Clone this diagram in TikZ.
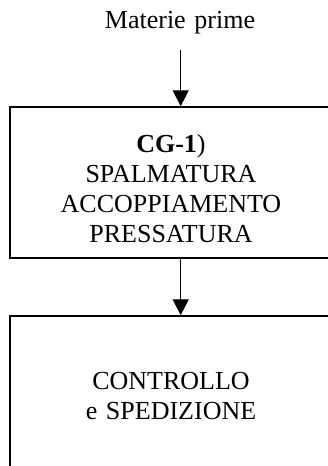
\documentclass[tikz,border=0pt]{standalone}
\usepackage{fontspec}
\setmainfont{Liberation Serif}
\usetikzlibrary{arrows.meta}
\tikzset{
  boxnode/.style={draw=black, line width=1.5pt, inner sep=0pt, fill=none},
  txt/.style={font=\fontsize{26}{30}\selectfont, align=center, text width=310pt, inner sep=0pt, anchor=base},
  flow/.style={line width=1.3pt, -{Triangle[width=16pt,length=16pt]}}
}
\begin{document}
\begin{tikzpicture}[x=1pt,y=-1pt]
\useasboundingbox (0,0) rectangle (328,466);
\clip (0,0) rectangle (328,466);
\fill[white] (0,0) rectangle (328,466);
\node[txt] (title) at (180,28) {Materie prime};
\coordinate (a1) at (180.7,50);
\node[boxnode, minimum width=322pt, minimum height=151pt] (b1) at (171,182.5) {};
\node[txt] (t1) at (171,152) {\textbf{CG-1})\\SPALMATURA\\ACCOPPIAMENTO\\PRESSATURA};
\node[boxnode, minimum width=322pt, minimum height=164pt] (b2) at (171,398) {};
\node[txt] (t2) at (171,389) {CONTROLLO\\e SPEDIZIONE};
\draw[flow] (a1) -- (a1 |- b1.north);
\draw[flow] (a1 |- b1.south) -- (a1 |- b2.north);
\end{tikzpicture}
\end{document}
